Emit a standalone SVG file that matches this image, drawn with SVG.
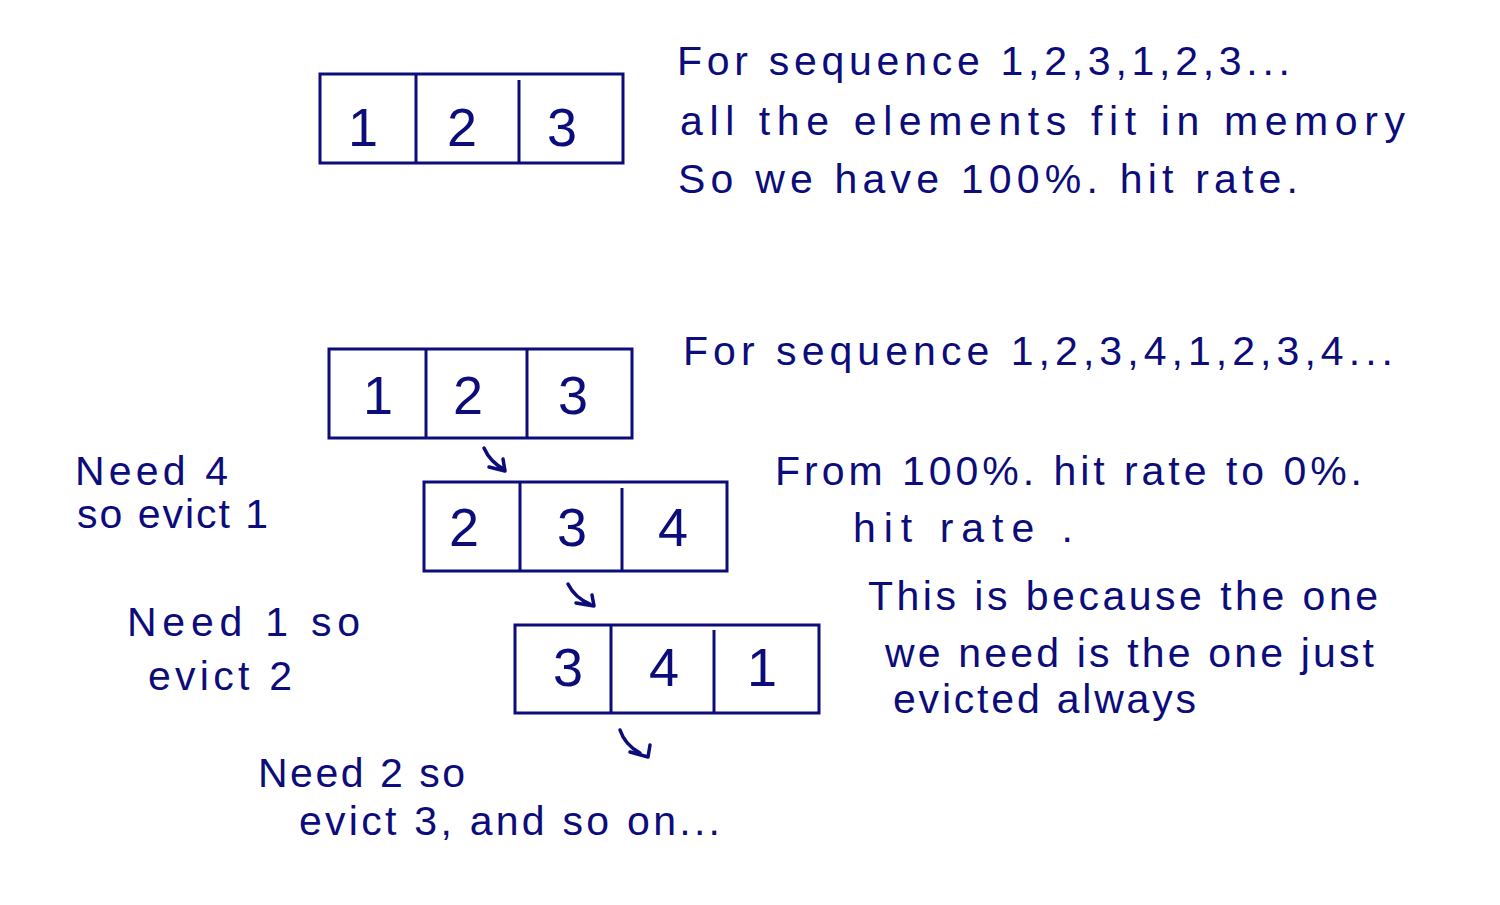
<svg xmlns="http://www.w3.org/2000/svg" width="1500" height="905" viewBox="0 0 1500 905">
<style>
.t{font-family:"Liberation Sans",Arial,sans-serif;fill:#0c0c7a;font-size:41px}
.n{font-family:"Liberation Sans",Arial,sans-serif;fill:#0c0c7a;font-size:54px;text-anchor:middle}
.b{fill:none;stroke:#0c0c7a;stroke-width:3}
.a{fill:none;stroke:#0c0c7a;stroke-width:3.5;stroke-linecap:round;stroke-linejoin:round}
</style>
<rect width="1500" height="905" fill="#ffffff"/>
<g id="box1">
<rect class="b" x="320" y="74" width="303" height="89"/>
<line class="b" x1="416" y1="74" x2="416" y2="163"/>
<line class="b" x1="519" y1="80" x2="519" y2="163"/>
<text class="n" x="363" y="146">1</text><text class="n" x="462" y="146">2</text><text class="n" x="562" y="146">3</text>
</g>
<g id="box2">
<rect class="b" x="329" y="349" width="303" height="89"/>
<line class="b" x1="426" y1="349" x2="426" y2="438"/>
<line class="b" x1="527" y1="349" x2="527" y2="438"/>
<text class="n" x="378" y="414">1</text><text class="n" x="468" y="414">2</text><text class="n" x="573" y="414">3</text>
</g>
<g id="box3">
<rect class="b" x="424" y="482" width="303" height="89"/>
<line class="b" x1="520" y1="482" x2="520" y2="571"/>
<line class="b" x1="622" y1="488" x2="622" y2="571"/>
<text class="n" x="464" y="546">2</text><text class="n" x="572" y="546">3</text><text class="n" x="673" y="546">4</text>
</g>
<g id="box4">
<rect class="b" x="515" y="625" width="304" height="88"/>
<line class="b" x1="611" y1="625" x2="611" y2="713"/>
<line class="b" x1="714" y1="630" x2="714" y2="713"/>
<text class="n" x="568" y="686">3</text><text class="n" x="664" y="686">4</text><text class="n" x="762" y="686">1</text>
</g>
<g id="connectors">
<path class="a" d="M484 448 Q490 462 505 470 M489 467 L505 471 L503 459"/>
<path class="a" d="M568 584 Q575 598 590 604 M576 603 L594 606 L592 595"/>
<path class="a" d="M620 730 Q625 745 640 753 M630 752 L648 757 L650 745"/>
</g>
<g id="notes">
<text class="t" x="677" y="75" textLength="613" lengthAdjust="spacing">For sequence 1,2,3,1,2,3...</text>
<text class="t" x="680" y="135" textLength="725" lengthAdjust="spacing">all the elements fit in memory</text>
<text class="t" x="678" y="193" textLength="620" lengthAdjust="spacing">So we have 100%. hit rate.</text>
<text class="t" x="683" y="365" textLength="710" lengthAdjust="spacing">For sequence 1,2,3,4,1,2,3,4...</text>
<text class="t" x="775" y="485" textLength="587" lengthAdjust="spacing">From 100%. hit rate to 0%.</text>
<text class="t" x="853" y="542" textLength="220" lengthAdjust="spacing">hit rate .</text>
<text class="t" x="868" y="610" textLength="510" lengthAdjust="spacing">This is because the one</text>
<text class="t" x="885" y="667" textLength="489" lengthAdjust="spacing">we need is the one just</text>
<text class="t" x="893" y="713" textLength="303" lengthAdjust="spacing">evicted always</text>
<text class="t" x="75" y="485" textLength="153" lengthAdjust="spacing">Need 4</text>
<text class="t" x="77" y="528" textLength="191" lengthAdjust="spacing">so evict 1</text>
<text class="t" x="127" y="636" textLength="233" lengthAdjust="spacing">Need 1 so</text>
<text class="t" x="148" y="690" textLength="144" lengthAdjust="spacing">evict 2</text>
<text class="t" x="258" y="787" textLength="207" lengthAdjust="spacing">Need 2 so</text>
<text class="t" x="299" y="835" textLength="421" lengthAdjust="spacing">evict 3, and so on...</text>
</g>
</svg>
